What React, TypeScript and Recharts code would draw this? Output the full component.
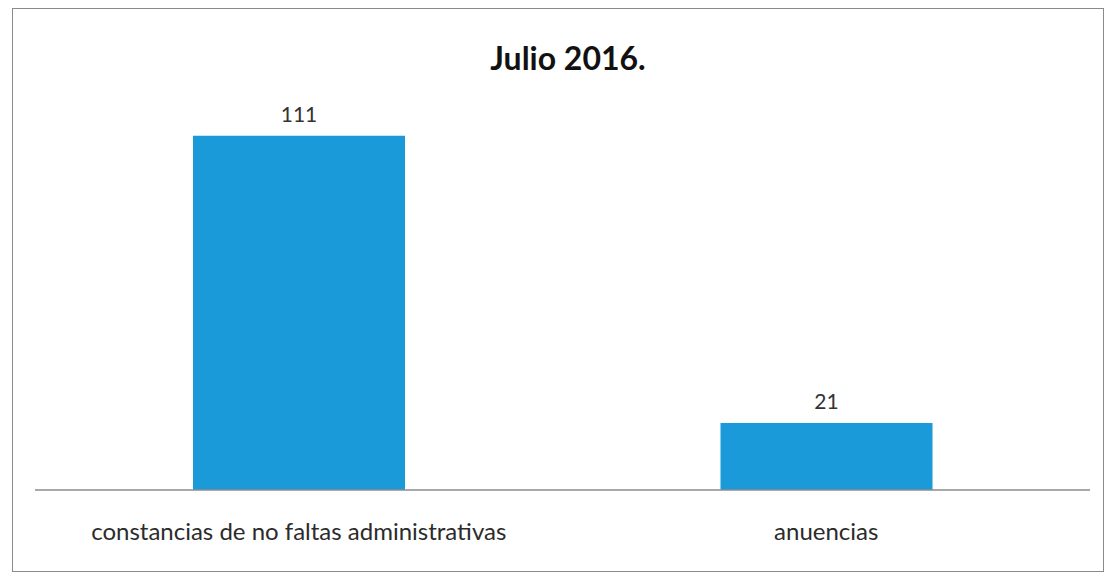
import React from 'react';
import { BarChart, Bar, XAxis, YAxis, LabelList } from 'recharts';

const categories = ['constancias de no faltas administrativas', 'anuencias'];
const values = [111, 21];

const data = categories.map((name, i) => ({ name, value: values[i] }));

const FONT = 'Lato, "Open Sans", sans-serif';

export default function App() {
  return (
    <div style={{ position: 'absolute', left: 0, top: 0, width: 1110, height: 583, background: '#fff', fontFamily: FONT }}>
      {/* scanned frame */}
      <div
        style={{
          position: 'absolute',
          left: 12,
          top: 8,
          width: 1092,
          height: 564,
          border: '1px solid #8a8a8a',
          boxSizing: 'border-box',
        }}
      />
      <div
        style={{
          position: 'absolute',
          left: 0,
          top: 38,
          width: 1136,
          textAlign: 'center',
          fontSize: 32,
          fontWeight: 700,
          color: '#111',
        }}
      >
        Julio 2016.
      </div>
      <div style={{ position: 'absolute', left: 0, top: 0 }}>
        <BarChart
          width={1110}
          height={583}
          data={data}
          margin={{ top: 107, right: 20, left: 35, bottom: 43 }}
        >
          <XAxis
            dataKey="name"
            axisLine={{ stroke: '#8c8c8c', strokeWidth: 1.5 }}
            tickLine={false}
            height={50}
            tick={{ fontSize: 24, fill: '#2b2b2b', fontFamily: FONT }}
            tickMargin={27}
            interval={0}
          />
          <YAxis hide domain={[0, 120]} />
          <Bar dataKey="value" fill="#1B9AD9" barSize={212} isAnimationActive={false}>
            <LabelList dataKey="value" position="top" offset={14} style={{ fontSize: 21, fill: '#333', fontFamily: FONT }} />
          </Bar>
        </BarChart>
      </div>
    </div>
  );
}
